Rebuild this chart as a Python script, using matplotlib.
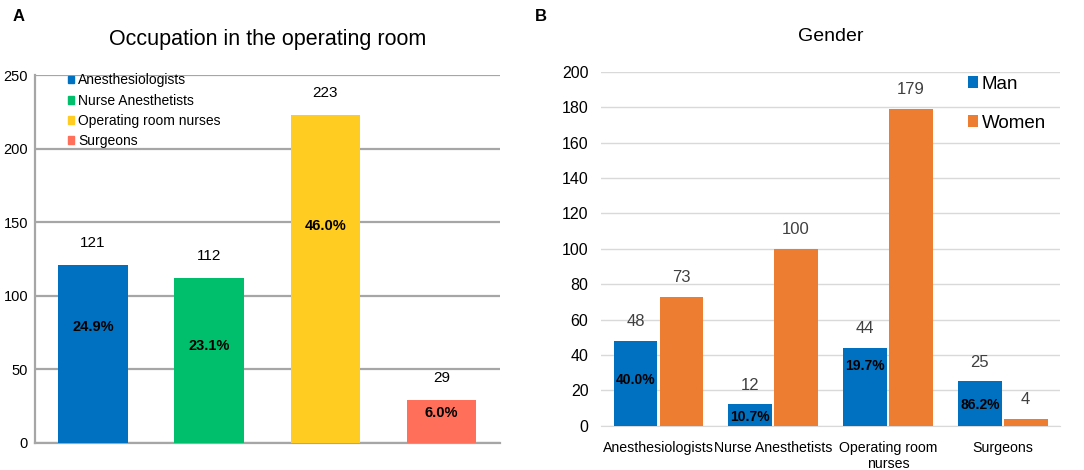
import matplotlib
matplotlib.use('Agg')
import matplotlib.pyplot as plt
from matplotlib.patches import Patch
import numpy as np

plt.rcParams['font.family'] = ['Liberation Sans', 'DejaVu Sans']

# panel A data
occupations = ['Anesthesiologists', 'Nurse Anesthetists', 'Operating room nurses', 'Surgeons']
occ_counts = [121, 112, 223, 29]
occ_pct = ['24.9%', '23.1%', '46.0%', '6.0%']

# panel B data
gender_cats = ['Anesthesiologists', 'Nurse Anesthetists', 'Operating room\nnurses', 'Surgeons']
man_counts = [48, 12, 44, 25]
women_counts = [73, 100, 179, 4]
man_pct = ['40.0%', '10.7%', '19.7%', '86.2%']

occ_colors = ['#0070C0', '#00BF6C', '#FFCC22', '#FF6F59']
man_color = '#0070C0'
women_color = '#ED7D31'

# where the percentage text sits, as a fraction of the bar height
occ_pct_frac = [0.65, 0.59, 0.66, 0.70]
man_pct_frac = [0.54, 0.42, 0.77, 0.47]

fig = plt.figure(figsize=(10.84, 4.70), dpi=100)

# ---------- A ----------
ax1 = fig.add_axes([0.0323, 0.058, 0.4287, 0.782])
x1 = np.arange(len(occupations))
bars = ax1.bar(x1, occ_counts, width=0.6, color=occ_colors, zorder=3)
ax1.set_xlim(-0.5, len(occupations) - 0.5)
ax1.set_ylim(0, 250)
ax1.set_yticks(np.arange(0, 251, 50))
ax1.set_xticks([])
ax1.grid(axis='y', color='#A6A6A6', linewidth=1.6, zorder=0)
for s in ['top', 'right']:
    ax1.spines[s].set_visible(False)
for s in ['left', 'bottom']:
    ax1.spines[s].set_color('#A6A6A6')
    ax1.spines[s].set_linewidth(1.6)
ax1.tick_params(axis='y', length=0, labelsize=10.5, pad=5)
for i, b in enumerate(bars):
    h = b.get_height()
    cx = b.get_x() + b.get_width() / 2
    ax1.annotate(str(occ_counts[i]), (cx, h), xytext=(0, 16), textcoords='offset points',
                 ha='center', va='center', fontsize=11)
    ax1.text(cx, h * occ_pct_frac[i], occ_pct[i], ha='center', va='center',
             fontsize=10.5, fontweight='bold', zorder=4)
ax1.set_title('Occupation in the operating room', fontsize=15.5, pad=22)
handles = [Patch(color=c) for c in occ_colors]
ax1.legend(handles, occupations, loc='upper left', bbox_to_anchor=(0.058, 1.02),
           frameon=False, fontsize=10, handlelength=0.5, handleheight=0.5,
           handletextpad=0.25, labelspacing=0.45, borderaxespad=0)

# ---------- B ----------
ax2 = fig.add_axes([0.5544, 0.0943, 0.4236, 0.7525])
x2 = np.arange(len(gender_cats))
w = 0.38
gap = 0.01
mb = ax2.bar(x2 - w / 2 - gap, man_counts, width=w, color=man_color, zorder=3, label='Man')
wb = ax2.bar(x2 + w / 2 + gap, women_counts, width=w, color=women_color, zorder=3, label='Women')
ax2.set_xlim(-0.5, len(gender_cats) - 0.5)
ax2.set_ylim(0, 200)
ax2.set_yticks(np.arange(0, 201, 20))
ax2.set_xticks(x2)
ax2.set_xticklabels(gender_cats, fontsize=10.2, va='top', linespacing=1.2)
ax2.grid(axis='y', color='#D9D9D9', linewidth=1.0, zorder=0)
for s in ['top', 'right', 'left']:
    ax2.spines[s].set_visible(False)
ax2.spines['bottom'].set_color('#D9D9D9')
ax2.tick_params(axis='y', length=0, labelsize=11.5, pad=9)
ax2.tick_params(axis='x', length=0, pad=11)
for i, b in enumerate(mb):
    h = b.get_height()
    cx = b.get_x() + b.get_width() / 2
    ax2.annotate(str(man_counts[i]), (cx, h), xytext=(0, 14), textcoords='offset points',
                 ha='center', va='center', fontsize=12, color='#404040')
    ax2.text(cx, h * man_pct_frac[i], man_pct[i], ha='center', va='center',
             fontsize=10, fontweight='bold', zorder=4)
for i, b in enumerate(wb):
    h = b.get_height()
    cx = b.get_x() + b.get_width() / 2
    ax2.annotate(str(women_counts[i]), (cx, h), xytext=(0, 14), textcoords='offset points',
                 ha='center', va='center', fontsize=12, color='#404040')
ax2.set_title('Gender', fontsize=14, pad=22)
ax2.legend(loc='upper right', bbox_to_anchor=(0.985, 1.01), frameon=False,
           fontsize=13.5, handlelength=0.5, handleheight=0.6, handletextpad=0.2,
           labelspacing=1.15, borderaxespad=0)

fig.text(0.012, 0.965, 'A', fontsize=12, fontweight='bold', va='center')
fig.text(0.493, 0.965, 'B', fontsize=12, fontweight='bold', va='center')

fig.savefig('out.png', dpi=100)
